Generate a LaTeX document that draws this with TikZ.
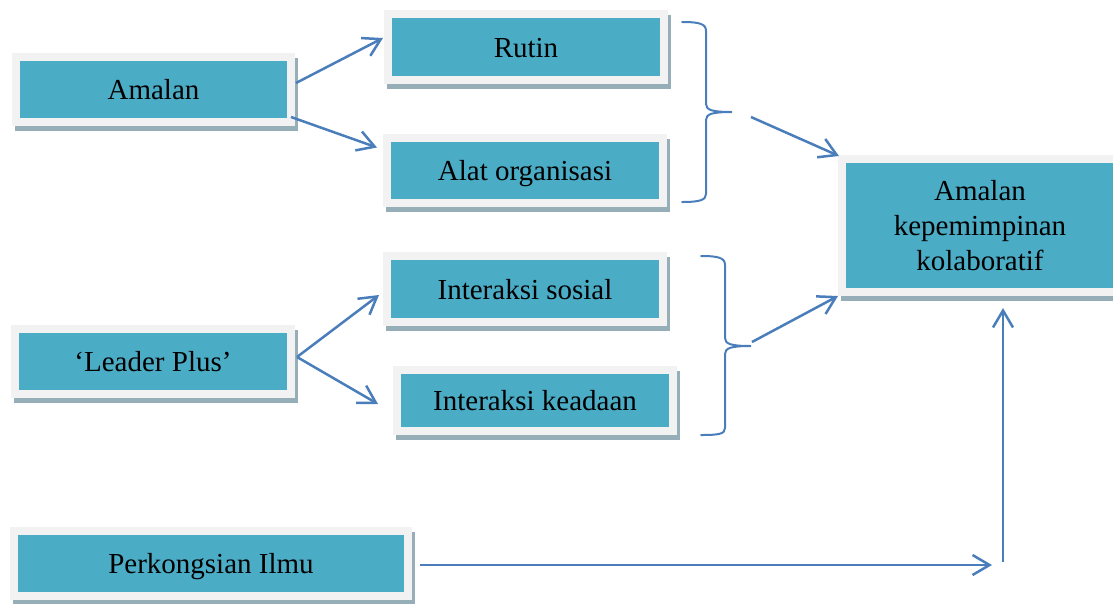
\documentclass[tikz,border=0pt]{standalone}
\usepackage{fontspec}
\setmainfont{Liberation Serif}
\usetikzlibrary{arrows.meta,calc,backgrounds}
\definecolor{tealfill}{HTML}{4BACC6}
\definecolor{framecol}{HTML}{F2F2F2}
\definecolor{shadcol}{RGB}{150,174,184}
\definecolor{arrcol}{HTML}{4A7EBB}
\tikzset{
  box/.style={draw=framecol, fill=tealfill, line width=8pt, minimum width=276pt,
    minimum height=65pt, inner sep=0pt, outer sep=0pt,
    font=\fontsize{29}{35}\selectfont, align=center},
  onebox/.style={box, text height=20pt, text depth=0pt},
  conn/.style={draw=arrcol, line width=2.5pt,
    -{Straight Barb[length=17pt,width=20pt,line width=2.5pt]}},
  bracepath/.style={draw=arrcol, line width=2pt, line cap=round}
}
\begin{document}
\begin{tikzpicture}[x=1pt,y=-1pt]
\useasboundingbox (0,0) rectangle (1113,603);
% boxes
\node[onebox, minimum width=275pt] (amalan) at (153.5,89.5) {Amalan};
\node[onebox, minimum height=66pt] (rutin) at (526,47) {Rutin};
\node[onebox] (alat) at (525,170.5) {Alat organisasi};
\node[onebox, minimum height=66pt] (sosial) at (525,289) {Interaksi sosial};
\node[onebox, minimum height=61pt] (keadaan) at (535,400.5) {Interaksi keadaan};
\node[onebox] (leader) at (153,361.5) {‘Leader Plus’};
\node[onebox, minimum width=394pt] (perk) at (211,563.5) {Perkongsian Ilmu};
\node[box, minimum height=133pt] (akk) at (980,225.5) {Amalan\\kepemimpinan\\kolaboratif};
% shadows
\begin{scope}[on background layer]
\foreach \n in {amalan,rutin,alat,sosial,keadaan,leader,perk,akk}
  \fill[shadcol] ([shift={(-1,1)}]\n.north west) rectangle ([shift={(7,9)}]\n.south east);
\end{scope}
% braces
\coordinate (b1tip) at (732,112);
\coordinate (b2tip) at (751,346);
\draw[bracepath] (682,22) .. controls (700,22) and (706,24) .. (706,31) -- (706,104)
  .. controls (706,110) and (712,112) .. (b1tip)
  .. controls (712,112) and (706,114) .. (706,120) -- (706,194)
  .. controls (706,200) and (700,202) .. (682,202);
\draw[bracepath] (701,256) .. controls (719,256) and (725,258) .. (725,265) -- (725,338)
  .. controls (725,344) and (731,346) .. (b2tip)
  .. controls (731,346) and (725,348) .. (725,354) -- (725,428)
  .. controls (725,434) and (719,435) .. (701,435);
% connectors
\coordinate (s1) at ($(b1tip)+(19,5)$);
\coordinate (s2) at ($(b2tip)+(1,-4)$);
\coordinate (hend) at (992,565);
\coordinate (vstart) at (1003,562);
\draw[conn] ([shift={(5,-6.5)}]amalan.east) -- ([shift={(-5,-9)}]rutin.west);
\draw[conn] ([shift={(0,-5)}]amalan.south east) -- ([shift={(-10,9.5)}]alat.north west);
\draw[conn] ([shift={(6,-4.5)}]leader.east) -- ([shift={(-8,6)}]sosial.west);
\draw[conn] ([shift={(6,-4.5)}]leader.east) -- ([shift={(-19,3.5)}]keadaan.west);
\draw[conn] (s1) -- ([shift={(-3,-3)}]akk.north west);
\draw[conn] (s2) -- ([shift={(-4,4)}]akk.south west);
\draw[conn] ([shift={(12,1.5)}]perk.east) -- (hend);
\draw[conn] (vstart) -- ([shift={(23,16)}]akk.south);
\end{tikzpicture}
\end{document}
